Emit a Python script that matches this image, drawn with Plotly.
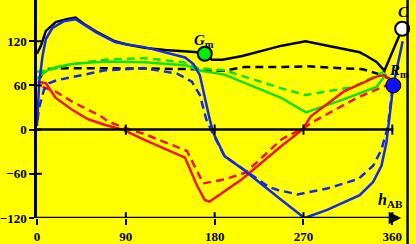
import plotly.graph_objects as go

# ---- data (hue h_AB in degrees, value) ----
black_h = [0, 4, 9, 19, 30, 39, 47, 60, 79, 90, 109, 130, 163, 170, 177, 188, 208, 248, 272, 294, 311, 327, 334, 344, 352, 370]
black_v = [103, 114, 134, 146, 150, 152, 144, 133, 120, 116, 111, 108, 105, 104, 95, 95, 100, 114, 120, 114, 109, 105, 100, 92, 80, 137]

black_d_h = [3, 8, 30, 60, 109, 163, 175, 190, 210, 250, 275, 300, 330, 345, 356, 361]
black_d_v = [70, 82, 83.5, 83.5, 83, 82, 80, 80, 85, 85, 86, 84, 82, 76, 70, 62]

blue_h = [0, 2.3, 5.6, 9, 15.6, 27, 39, 47, 60, 79, 90, 109, 150, 158.5, 165, 175, 178.5, 190, 208, 248, 271, 294, 327, 340.6, 349, 354, 357, 361, 370.5]
blue_v = [5, 65, 100, 123, 138, 147, 150, 143, 132, 119, 116, 112, 98, 89, 74, 14, -4, -36, -53, -96, -120, -109, -89, -71, -49, -18, 13, 60, 120]

blue_d_h = [0.5, 2, 7, 12, 20, 35.6, 69, 109, 142, 157, 165, 171.5, 178.5, 190, 205, 220, 235, 244, 264, 294, 325.7, 340.6, 349, 355.6, 360]
blue_d_v = [13, 29, 54, 63, 67, 71.5, 80.5, 83.5, 76, 65, 47, 14, -6, -36, -50, -64, -78, -82, -88, -80, -67, -49, -27, 4, 55]

green_h = [0, 4, 10.7, 20, 35.6, 69, 109, 152, 163.5, 190, 248, 272.5, 310.7, 344, 354]
green_v = [69, 74, 80.5, 85, 89, 92.5, 91.5, 87, 80.5, 74.7, 42.7, 23.5, 41, 58, 76]

green_d_h = [0, 4, 10, 19, 35.6, 69, 109, 148.5, 163.5, 190, 248, 272, 320.6, 350.6, 356]
green_d_v = [79, 79, 81, 83, 89, 95, 97, 91.5, 83.5, 80.5, 56, 47, 58, 78, 80]

red_h = [0.6, 9, 19, 35.6, 52, 70, 87, 109, 150, 162, 170, 175, 208, 248, 269, 277.5, 310.7, 344, 352, 360]
red_v = [65, 63, 43, 27, 14, 6, 0, -14, -38, -75.5, -95.5, -97.7, -67, -22, 0, 18, 51.5, 72, 74, 65]

red_d_h = [5.6, 19, 35.6, 65, 72, 90, 109, 152, 168.5, 191.7, 211.7, 248, 270, 283, 324, 354, 360]
red_d_v = [58, 51.5, 38, 18, 11, 2, -6, -29, -73, -67, -58, -13, 2, 13, 43, 60, 60]

x_ticks = [0, 90, 180, 270, 360]
x_tick_text = ["0", "90", "180", "270", "360"]
y_ticks = [-120, -60, 0, 60, 120]
y_tick_text = ["\u2212120", "\u221260", "0", "60", "120"]

gm_point = (170, 103)
rm_point = (361, 60)
c_point = (370, 137)

BLACK = "#000000"
BLUE = "#1428f0"
GREEN = "#10e010"
RED = "#f01414"
LW = 2.5
DASH = "8px,5px"
FONT = "Liberation Serif, Times New Roman, serif"

fig = go.Figure()

def add_line(h, v, color, dash=None):
    fig.add_trace(go.Scatter(x=h, y=v, mode="lines",
                             line=dict(color=color, width=LW, dash=dash or "solid"),
                             hoverinfo="skip", showlegend=False))

add_line(black_d_h, black_d_v, BLACK, DASH)
add_line(green_d_h, green_d_v, GREEN, DASH)
add_line(red_d_h, red_d_v, RED, DASH)
add_line(blue_d_h, blue_d_v, BLUE, DASH)
add_line(black_h, black_v, BLACK)
add_line(green_h, green_v, GREEN)
add_line(red_h, red_v, RED)
add_line(blue_h, blue_v, BLUE)

# markers
fig.add_trace(go.Scatter(x=[gm_point[0]], y=[gm_point[1]], mode="markers",
                         marker=dict(size=14, color="#00ee00", line=dict(color=BLACK, width=2)),
                         hoverinfo="skip", showlegend=False))
fig.add_trace(go.Scatter(x=[rm_point[0]], y=[rm_point[1]], mode="markers",
                         marker=dict(size=15, color="#1010ff", line=dict(color=BLACK, width=1)),
                         hoverinfo="skip", showlegend=False))
fig.add_trace(go.Scatter(x=[c_point[0]], y=[c_point[1]], mode="markers",
                         marker=dict(size=14, color="#ffffff", line=dict(color=BLACK, width=2)),
                         hoverinfo="skip", showlegend=False))

# axes drawn as shapes
shapes = []
line_k = dict(color=BLACK, width=2.5)
shapes.append(dict(type="line", xref="x", yref="y", x0=0, x1=361, y0=0, y1=0, line=line_k))
shapes.append(dict(type="line", xref="x", yref="y", x0=0, x1=362, y0=-120, y1=-120, line=line_k))
for t in x_ticks[1:]:
    shapes.append(dict(type="line", xref="x", yref="y", x0=t, x1=t, y0=-7, y1=7, line=dict(color=BLACK, width=2)))
    shapes.append(dict(type="line", xref="x", yref="y", x0=t, x1=t, y0=-120, y1=-112, line=dict(color=BLACK, width=2)))
for t in y_ticks:
    shapes.append(dict(type="line", xref="x", yref="y", x0=0, x1=5, y0=t, y1=t, line=dict(color=BLACK, width=2)))
shapes.append(dict(type="line", xref="x", yref="paper", x0=375.5, x1=375.5, y0=-0.12, y1=1, line=dict(color=BLACK, width=2.5)))

annotations = [
    dict(x=369, y=-120, ax=358, ay=-120, xref="x", yref="y", axref="x", ayref="y",
         showarrow=True, arrowhead=2, arrowsize=1, arrowwidth=2.5, arrowcolor=BLACK, text=""),
    dict(x=169, y=120, xref="x", yref="y", showarrow=False,
         text="<i>G</i><sub>m</sub>", font=dict(family=FONT, size=15, color=BLACK, weight="bold")),
    dict(x=367, y=79, xref="x", yref="y", showarrow=False,
         text="<i>R</i><sub>m</sub>", font=dict(family=FONT, size=15, color=BLACK, weight="bold")),
    dict(x=371, y=160, xref="x", yref="y", showarrow=False,
         text="<i>C</i>", font=dict(family=FONT, size=15, color=BLACK, weight="bold")),
    dict(x=358, y=-96, xref="x", yref="y", showarrow=False,
         text="<i>h</i><sub>AB</sub>", font=dict(family=FONT, size=16, color=BLACK, weight="bold")),
]

fig.update_layout(
    width=416, height=244,
    margin=dict(l=31, r=0, t=0, b=22),
    paper_bgcolor="#ffff00", plot_bgcolor="#ffff00",
    shapes=shapes, annotations=annotations,
    xaxis=dict(range=[0, 384], showgrid=False, zeroline=False, showline=False,
               tickvals=x_ticks, ticktext=x_tick_text, ticks="outside", ticklen=6,
               tickwidth=2, tickcolor=BLACK,
               tickfont=dict(family=FONT, size=13, color=BLACK, weight="bold")),
    yaxis=dict(range=[-120, 176], showgrid=False, zeroline=False, showline=True,
               linecolor=BLACK, linewidth=2.5,
               tickvals=y_ticks, ticktext=y_tick_text, ticks="outside", ticklen=5,
               tickwidth=2, tickcolor=BLACK,
               tickfont=dict(family=FONT, size=13, color=BLACK, weight="bold")),
)

fig.write_html("out.html", config={"displayModeBar": False},
               post_script="document.body.style.margin='0px';document.body.style.padding='0px';")
